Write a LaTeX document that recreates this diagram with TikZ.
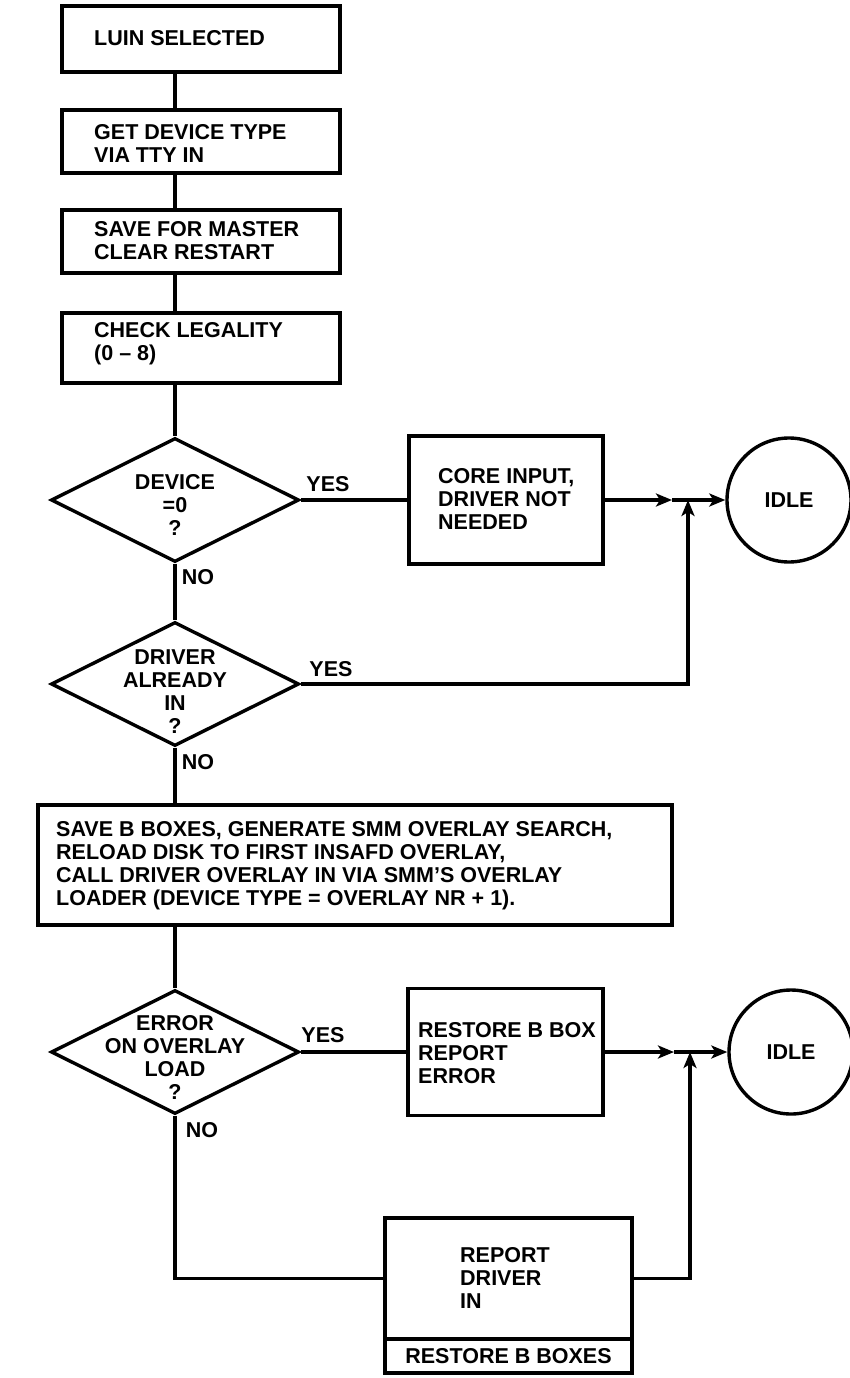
\documentclass[tikz,border=0pt]{standalone}
\usepackage{fontspec}
\setmainfont{Liberation Sans}
\usetikzlibrary{arrows.meta,shapes.geometric}
\newcommand\lblfont{\bfseries\fontsize{21.5pt}{23pt}\selectfont}
\begin{document}
\begin{tikzpicture}[x=1pt,y=-1pt,
  every node/.style={font=\lblfont},
  frame/.style={draw, line width=3.4pt, rectangle, inner sep=0pt},
  dia/.style={draw, line width=3.4pt, diamond, inner sep=0pt, minimum width=248pt, minimum height=124pt},
  term/.style={draw, line width=3.4pt, circle, inner sep=0pt, minimum size=124pt},
  txt/.style={inner sep=0pt, align=left, anchor=west},
  ctxt/.style={inner sep=0pt, align=center},
  link/.style={line width=3.4pt},
  arr/.style={line width=3.4pt, -{Stealth[length=16pt,width=13pt,inset=4pt]}},
]
\useasboundingbox (0,0) rectangle (850,1378);

% top process boxes
\node[frame, minimum width=278pt, minimum height=66pt] (b1) at (201,39) {};
\node[txt] (b1t) at (94,38) {LUIN SELECTED};
\node[frame, minimum width=278pt, minimum height=63pt] (b2) at (201,141.5) {};
\node[txt] (b2t) at (94,143) {GET DEVICE TYPE\\VIA TTY IN};
\node[frame, minimum width=278pt, minimum height=63pt] (b3) at (201,241.5) {};
\node[txt] (b3t) at (94,241) {SAVE FOR MASTER\\CLEAR RESTART};
\node[frame, minimum width=278pt, minimum height=70pt] (b4) at (201,348) {};
\node[txt] (b4t) at (94,344) {CHECK LEGALITY\\(0 -- 8)};

% decision 1
\node[dia] (d1) at (175,500) {};
\node[ctxt] (d1t) at (175,505) {DEVICE\\=0\\?};
\node[frame, minimum width=194pt, minimum height=128pt] (core) at (506,500) {};
\node[txt] (coret) at (438,499) {CORE INPUT,\\DRIVER NOT\\NEEDED};
\node[term] (idle1) at (789,500) {IDLE};
\coordinate (a1) at (672,500);
\coordinate (j1) at (688,500);

% decision 2
\node[dia] (d2) at (175,684) {};
\node[ctxt] (d2t) at (175,692) {DRIVER\\ALREADY\\IN\\?};

% overlay box
\node[frame, minimum width=634pt, minimum height=120pt] (big) at (355,865) {};
\node[txt] (bigt) at (56,866) {SAVE B BOXES, GENERATE SMM OVERLAY SEARCH,\\RELOAD DISK TO FIRST INSAFD OVERLAY,\\CALL DRIVER OVERLAY IN VIA SMM'S OVERLAY\\LOADER (DEVICE TYPE = OVERLAY NR + 1).};

% decision 3
\node[dia] (d3) at (175,1052) {};
\node[ctxt] (d3t) at (175,1057) {ERROR\\ON OVERLAY\\LOAD\\?};
\node[frame, minimum width=195pt, minimum height=127pt] (rest) at (505.5,1052) {};
\node[txt] (restt) at (418,1053.5) {RESTORE B BOX\\REPORT\\ERROR};
\node[term] (idle2) at (791,1052) {IDLE};
\coordinate (a2) at (674,1052);
\coordinate (j2) at (690,1052);

% report box
\node[frame, minimum width=247pt, minimum height=121pt] (rt) at (508.5,1278.5) {};
\node[txt] (rtt) at (460,1277.5) {REPORT\\DRIVER\\IN};
\node[frame, minimum width=247pt, minimum height=34pt] (rb) at (508.5,1356) {RESTORE B BOXES};

% labels
\node (y1) at (328,484) {YES};
\node (n1) at (198,577) {NO};
\node (y2) at (331,669) {YES};
\node (n2) at (198,762) {NO};
\node (y3) at (323,1035) {YES};
\node (n3) at (202,1130) {NO};

% connectors
\draw[link] (b1.south -| d1.north) -- (b2.north -| d1.north);
\draw[link] (b2.south -| d1.north) -- (b3.north -| d1.north);
\draw[link] (b3.south -| d1.north) -- (b4.north -| d1.north);
\draw[link] (b4.south -| d1.north) -- (d1.north);
\draw[link] (d1.east) -- (core.west);
\draw[arr] (core.east) -- (a1);
\draw[link] (a1) -- (j1);
\draw[arr] (j1) -- (idle1.west);
\draw[link] (d1.south) -- (d2.north);
\draw[arr] (d2.east) -| (j1);
\draw[link] (d2.south) -- (big.north -| d2.south);
\draw[link] (big.south -| d3.north) -- (d3.north);
\draw[link] (d3.east) -- (rest.west);
\draw[arr] (rest.east) -- (a2);
\draw[link] (a2) -- (j2);
\draw[arr] (j2) -- (idle2.west);
\draw[link] (d3.south) |- (rt.west);
\draw[arr] (rt.east) -| (j2);
\end{tikzpicture}
\end{document}
